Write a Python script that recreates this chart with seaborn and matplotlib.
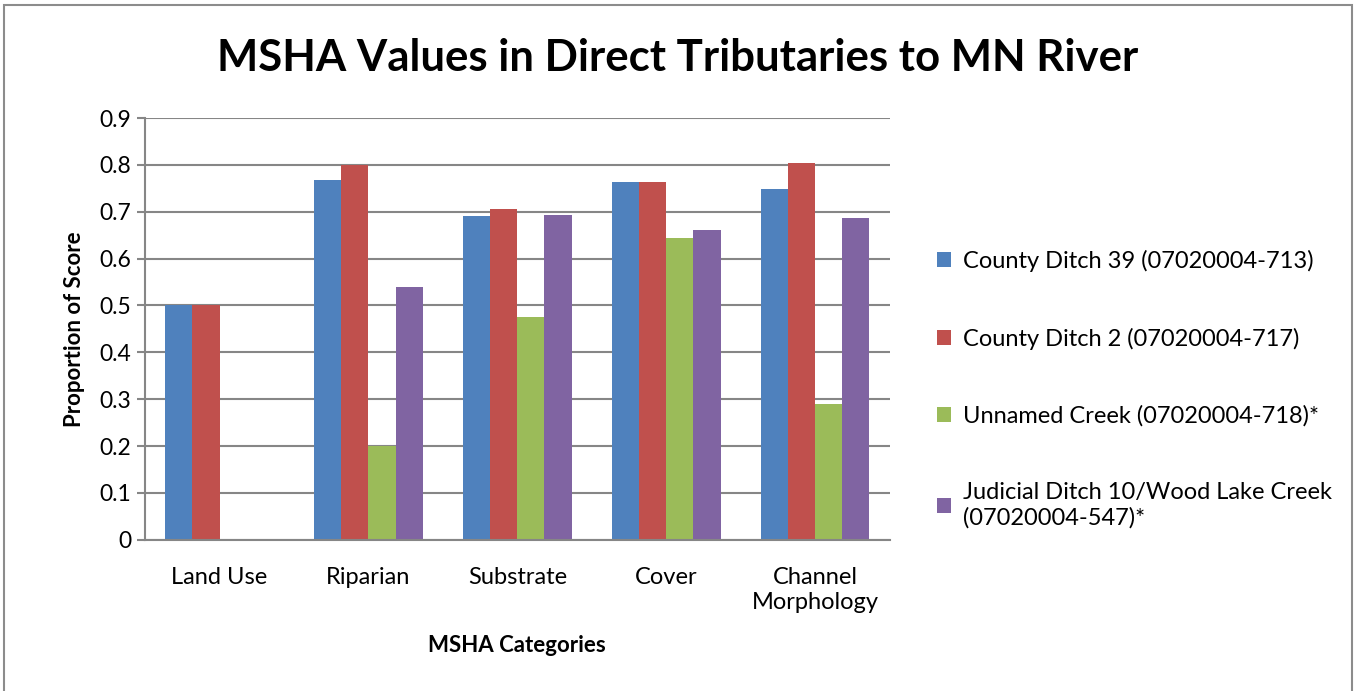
import pandas as pd
import seaborn as sns
import matplotlib.pyplot as plt
from matplotlib.patches import Rectangle

# Data
categories = ['Land Use', 'Riparian', 'Substrate', 'Cover', 'Channel\nMorphology']
sites = ['County Ditch 39 (07020004-713)',
         'County Ditch 2 (07020004-717)',
         'Unnamed Creek (07020004-718)*',
         'Judicial Ditch 10/Wood Lake Creek\n(07020004-547)*']
cd39 = [0.50, 0.767, 0.691, 0.764, 0.748]
cd2 = [0.50, 0.80, 0.706, 0.764, 0.804]
unnamed = [None, 0.20, 0.475, 0.645, 0.29]
jd10 = [None, 0.54, 0.693, 0.661, 0.687]
colors = ['#4F81BD', '#C0504D', '#9BBB59', '#8064A2']

rows = []
for site, vals in zip(sites, [cd39, cd2, unnamed, jd10]):
    for cat, v in zip(categories, vals):
        if v is not None:
            rows.append({'category': cat, 'site': site, 'value': v})
df = pd.DataFrame(rows)

sns.set_style('white')
plt.rcParams['font.family'] = ['Lato', 'DejaVu Sans']
plt.rcParams['text.color'] = 'black'
plt.rcParams['axes.labelcolor'] = 'black'
plt.rcParams['xtick.color'] = 'black'
plt.rcParams['ytick.color'] = 'black'

fig = plt.figure(figsize=(13.56, 6.91), dpi=100)
ax = fig.add_axes([0.107, 0.219, 0.549, 0.610])

sns.barplot(data=df, x='category', y='value', hue='site', order=categories,
            hue_order=sites, palette=colors, width=0.73, gap=0, linewidth=0,
            saturation=1, ax=ax)

grid_col = '#868686'
ax.set_ylim(0, 0.9)
ax.set_xlim(-0.5, 4.5)
ax.set_yticks([i / 10 for i in range(10)])
ax.set_yticklabels(['0'] + [f'{i / 10:.1f}' for i in range(1, 10)])
ax.yaxis.grid(True, color=grid_col, linewidth=1.5)
ax.set_axisbelow(True)
for s in ['top', 'right']:
    ax.spines[s].set_visible(False)
for s in ['left', 'bottom']:
    ax.spines[s].set_color(grid_col)
    ax.spines[s].set_linewidth(1.5)

# ticks between categories, like Excel
ax.set_xticks([i - 0.5 for i in range(6)], minor=True)
ax.tick_params(axis='x', which='minor', length=7, color=grid_col, width=1.5)
ax.tick_params(axis='x', which='major', length=0, pad=20, labelsize=17)
ax.tick_params(axis='y', length=6, color=grid_col, width=1.5, left=True, labelsize=16.5, pad=4)

ax.set_xlabel('MSHA Categories', fontsize=16, fontweight='bold', labelpad=16)
ax.set_ylabel('Proportion of Score', fontsize=16, fontweight='bold', labelpad=10)

fig.suptitle('MSHA Values in Direct Tributaries to MN River', x=0.5, y=0.945,
             fontsize=31.5, fontweight='bold')

handles, labels = ax.get_legend_handles_labels()
ax.legend_.remove()
fig.legend(handles, labels, loc='center left', bbox_to_anchor=(0.675, 0.437),
           frameon=False, fontsize=17, handlelength=0.6, handleheight=0.6,
           handletextpad=0.5, labelspacing=2.35)

fig.patches.append(Rectangle((0.003, -0.01), 0.994, 1.003, transform=fig.transFigure,
                             fill=False, edgecolor='#8c8c8c', linewidth=1.5))

fig.savefig('out.png', dpi=100)
